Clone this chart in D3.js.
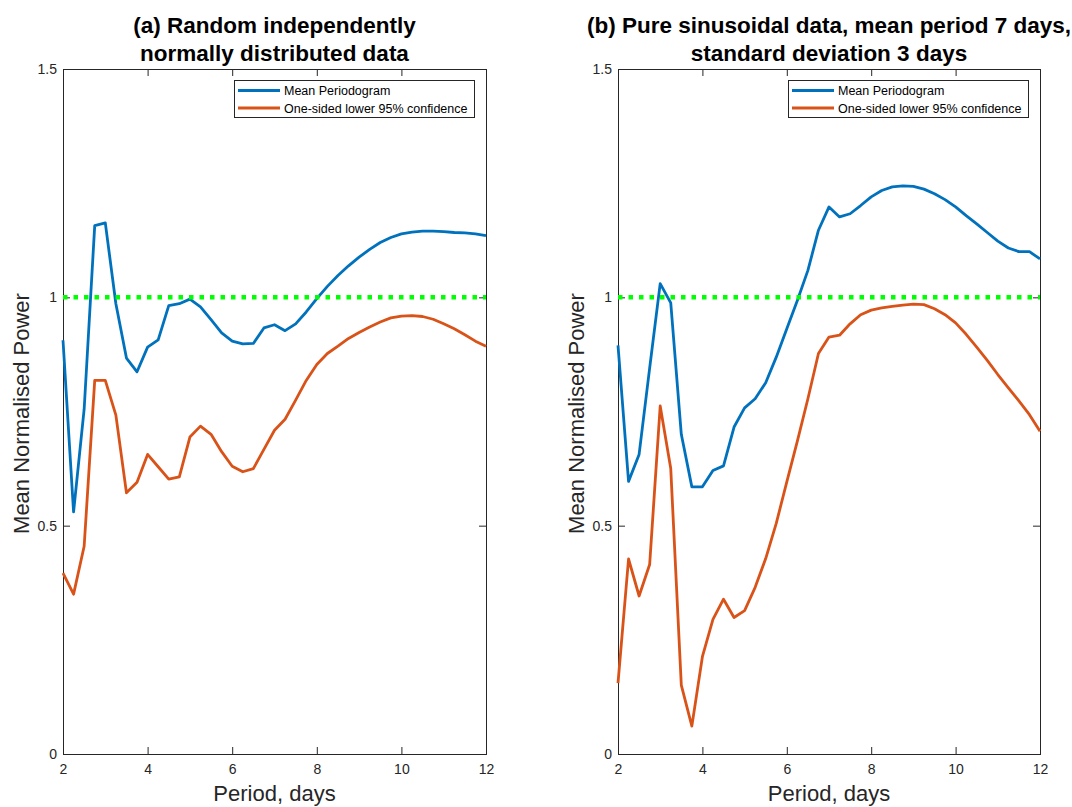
<!DOCTYPE html>
<html>
<head>
<meta charset="utf-8">
<script src="https://cdn.jsdelivr.net/npm/d3@7"></script>
<style>
  body { margin: 0; background: #fff; }
  svg { display: block; font-family: "Liberation Sans", Arial, sans-serif; }
  .tick text { fill: #262626; font-size: 14px; }
  .tick line { stroke: #262626; }
</style>
</head>
<body>
<div id="chart"></div>
<script>
// period (days), shared by both panels
var period = [2, 2.25, 2.5, 2.75, 3, 3.25, 3.5, 3.75, 4, 4.25, 4.5, 4.75, 5, 5.25, 5.5, 5.75,
  6, 6.25, 6.5, 6.75, 7, 7.25, 7.5, 7.75, 8, 8.25, 8.5, 8.75, 9, 9.25, 9.5, 9.75,
  10, 10.25, 10.5, 10.75, 11, 11.25, 11.5, 11.75, 12];

// (a) random normally distributed data
var meanA = [0.906, 0.53, 0.755, 1.157, 1.163, 0.986, 0.867, 0.837, 0.891, 0.907, 0.982, 0.986, 0.996, 0.979, 0.951, 0.922,
  0.904, 0.898, 0.899, 0.933, 0.940, 0.927, 0.942, 0.968, 0.997, 1.024, 1.048, 1.069, 1.088, 1.105, 1.120, 1.131,
  1.139, 1.143, 1.145, 1.145, 1.144, 1.142, 1.141, 1.139, 1.135];
var lowerA = [0.396, 0.35, 0.455, 0.818, 0.818, 0.742, 0.572, 0.595, 0.656, 0.629, 0.602, 0.607, 0.694, 0.718, 0.700, 0.662,
  0.630, 0.618, 0.625, 0.667, 0.709, 0.733, 0.775, 0.818, 0.853, 0.877, 0.893, 0.910, 0.923, 0.935, 0.946, 0.955,
  0.959, 0.960, 0.958, 0.952, 0.942, 0.931, 0.918, 0.904, 0.893];

// (b) pure sinusoidal data
var meanB = [0.895, 0.597, 0.656, 0.845, 1.030, 0.988, 0.700, 0.585, 0.585, 0.621, 0.631, 0.716, 0.758, 0.778, 0.813, 0.869,
  0.931, 0.993, 1.059, 1.147, 1.198, 1.176, 1.183, 1.201, 1.220, 1.234, 1.242, 1.244, 1.243, 1.237, 1.227, 1.214,
  1.198, 1.179, 1.161, 1.142, 1.123, 1.108, 1.100, 1.100, 1.084];
var lowerB = [0.155, 0.427, 0.346, 0.415, 0.762, 0.625, 0.151, 0.061, 0.213, 0.295, 0.339, 0.299, 0.314, 0.365, 0.428, 0.505,
  0.596, 0.685, 0.778, 0.877, 0.913, 0.917, 0.942, 0.962, 0.972, 0.977, 0.980, 0.983, 0.985, 0.984, 0.975, 0.962,
  0.944, 0.919, 0.891, 0.862, 0.831, 0.802, 0.773, 0.743, 0.707];

var xTicks = [2, 4, 6, 8, 10, 12];
var yTicks = [0, 0.5, 1, 1.5];
var refLevel = 1;
var legendLabels = ["Mean Periodogram", "One-sided lower 95% confidence"];
var colors = ["#0072BD", "#D95319"];

var svg = d3.select("#chart").append("svg")
    .attr("width", 1072)
    .attr("height", 807);

function drawPanel(left, right, titleLines, mean, lower) {
    var top = 69, bottom = 754;
    var x = d3.scaleLinear().domain([2, 12]).range([left, right]);
    var y = d3.scaleLinear().domain([0, 1.5]).range([bottom, top]);
    var g = svg.append("g");

    // axes, ticks pointing inwards like matlab
    g.append("g").attr("transform", "translate(0," + bottom + ")")
        .call(d3.axisBottom(x).tickValues(xTicks).tickSize(-7).tickPadding(10).tickSizeOuter(0));
    g.append("g").attr("transform", "translate(0," + top + ")")
        .call(d3.axisTop(x).tickValues(xTicks).tickSize(-7).tickFormat("").tickSizeOuter(0));
    g.append("g").attr("transform", "translate(" + left + ",0)")
        .call(d3.axisLeft(y).tickValues(yTicks).tickSize(-7).tickPadding(6).tickSizeOuter(0)
            .tickFormat(function (d) { return d; }));
    g.append("g").attr("transform", "translate(" + right + ",0)")
        .call(d3.axisRight(y).tickValues(yTicks).tickSize(-7).tickFormat("").tickSizeOuter(0));
    g.selectAll(".domain").remove();
    g.selectAll(".tick text").attr("font-family", null).attr("font-size", null);

    g.append("rect")
        .attr("x", left + 0.5).attr("y", top + 0.5)
        .attr("width", right - left).attr("height", bottom - top)
        .attr("fill", "none").attr("stroke", "#262626").attr("stroke-width", 1);

    var line = d3.line()
        .x(function (d, i) { return x(period[i]); })
        .y(function (d) { return y(d); });

    [mean, lower].forEach(function (s, k) {
        g.append("path")
            .attr("d", line(s))
            .attr("fill", "none")
            .attr("stroke", colors[k])
            .attr("stroke-width", 2.8)
            .attr("stroke-linejoin", "round");
    });

    // reference level at 1
    g.append("line")
        .attr("x1", x(2)).attr("x2", x(12))
        .attr("y1", y(refLevel)).attr("y2", y(refLevel))
        .attr("stroke", "#00FF00")
        .attr("stroke-width", 4.5)
        .attr("stroke-dasharray", "4.5,6");

    // legend
    var lw = 240, lh = 37, lx = right - 12 - lw, ly = top + 11;
    var leg = g.append("g").attr("transform", "translate(" + lx + "," + ly + ")");
    leg.append("rect")
        .attr("x", 0.5).attr("y", 0.5).attr("width", lw).attr("height", lh)
        .attr("fill", "#fff").attr("stroke", "#262626").attr("stroke-width", 1);
    legendLabels.forEach(function (t, k) {
        var ry = 10.5 + k * 17.5;
        leg.append("line")
            .attr("x1", 4).attr("x2", 46).attr("y1", ry).attr("y2", ry)
            .attr("stroke", colors[k]).attr("stroke-width", 2.8);
        leg.append("text")
            .attr("x", 50).attr("y", ry + 4.5)
            .attr("font-size", 12.5).attr("fill", "#000")
            .text(t);
    });

    // title
    var cx = (left + right) / 2;
    titleLines.forEach(function (t, k) {
        g.append("text")
            .attr("x", cx).attr("y", 33 + k * 28)
            .attr("text-anchor", "middle")
            .attr("font-size", 22.5).attr("font-weight", "bold").attr("fill", "#000")
            .text(t);
    });

    // axis labels
    g.append("text")
        .attr("x", cx).attr("y", 801)
        .attr("text-anchor", "middle")
        .attr("font-size", 22).attr("fill", "#262626")
        .text("Period, days");
    g.append("text")
        .attr("transform", "translate(" + (left - 34) + "," + ((top + bottom) / 2 + 2) + ") rotate(-90)")
        .attr("text-anchor", "middle")
        .attr("font-size", 22).attr("fill", "#262626")
        .text("Mean Normalised Power");
}

drawPanel(63, 486, ["(a) Random independently", "normally distributed data"], meanA, lowerA);
drawPanel(618, 1040, ["(b) Pure sinusoidal data, mean period 7 days,", "standard deviation 3 days"], meanB, lowerB);
</script>
</body>
</html>
